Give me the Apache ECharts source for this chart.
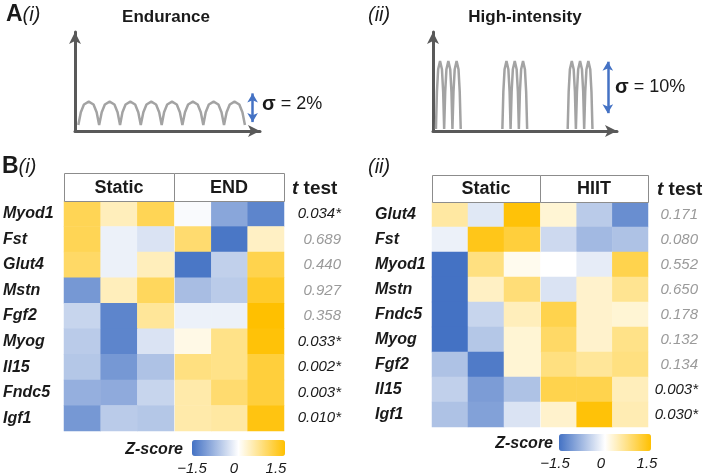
<!DOCTYPE html>
<html>
<head>
<meta charset="utf-8">
<script src="https://cdn.jsdelivr.net/npm/echarts@6/dist/echarts.min.js"></script>
<style>
  html, body { margin: 0; padding: 0; background: #fff; }
  #chart { width: 709px; height: 476px; }
</style>
</head>
<body>
<div id="chart"></div>
<script>
// ---- panel A: schematic load profiles (x and y on 0-100 axes) ----
var endStarts = [1.8, 13.1, 24.3, 35.6, 46.8, 58.1, 69.3, 80.6];
var endWidth = 11.25, endBase = 6, endPeak = 29.6;
var endSpread = [9, 38];
var hiitStarts = [1.6, 6.1, 10.6, 37.7, 42.2, 46.7, 73.2, 77.7, 82.2];
var hiitWidth = 4.46, hiitBase = 2, hiitPeak = 70.7;
var hiitSpread = [18, 70];
var humpShape = [[0, 0], [0.12, 0.55], [0.27, 0.88], [0.5, 1], [0.73, 0.88], [0.88, 0.55], [1, 0]];

// ---- panel B(i): endurance z-scores ----
var endGenes = ['Myod1', 'Fst', 'Glut4', 'Mstn', 'Fgf2', 'Myog', 'Il15', 'Fndc5', 'Igf1'];
var endStatic = [
  [1.0, 0.4, 1.0], [1.0, -0.15, -0.3], [0.9, -0.15, 0.4], [-1.1, 0.4, 0.95], [-0.45, -1.3, 0.6],
  [-0.55, -1.3, -0.3], [-0.6, -1.1, -0.65], [-0.85, -0.9, -0.45], [-1.1, -0.55, -0.6]
];
var endEND = [
  [-0.05, -0.95, -1.3], [0.85, -1.45, 0.35], [-1.45, -0.5, 1.05], [-0.7, -0.55, 1.25], [-0.15, -0.15, 1.5],
  [0.15, 0.7, 1.45], [0.75, 0.7, 1.15], [0.5, 0.85, 1.15], [0.5, 0.55, 1.4]
];
var endP = ['0.034*', '0.689', '0.440', '0.927', '0.358', '0.033*', '0.002*', '0.003*', '0.010*'];

// ---- panel B(ii): HIIT z-scores ----
var hiitGenes = ['Glut4', 'Fst', 'Myod1', 'Mstn', 'Fndc5', 'Myog', 'Fgf2', 'Il15', 'Igf1'];
var hiitStatic = [
  [0.55, -0.25, 1.45], [-0.15, 1.35, 1.15], [-1.5, 0.75, 0.1], [-1.5, 0.35, 0.8], [-1.5, -0.45, 0.4],
  [-1.5, -0.6, 0.25], [-0.65, -1.4, 0.25], [-0.5, -1.05, -0.65], [-0.65, -1.0, -0.3]
];
var hiitHIIT = [
  [0.25, -0.55, -1.2], [-0.4, -0.75, -0.65], [0.0, -0.2, 1.05], [-0.3, 0.3, 0.65], [1.05, 0.3, 0.25],
  [0.9, 0.3, 0.7], [0.75, 0.6, 0.75], [1.05, 1.05, 0.4], [0.3, 1.45, 0.45]
];
var hiitP = ['0.171', '0.080', '0.552', '0.650', '0.178', '0.132', '0.134', '0.003*', '0.030*'];

var reps = ['1', '2', '3'];

var FONT = 'Liberation Sans';
var AXIS_GREY = '#595959';
var WAVE_GREY = '#a3a3a3';
var BLUE = '#4472C4';
var zColors = ['#4472C4', '#ffffff', '#FFC000'];

function buildWave(starts, width, base, peak) {
  var pts = [];
  for (var i = 0; i < starts.length; i++) {
    // a gap before this hump when it does not touch the previous one
    if (i > 0 && starts[i] - (starts[i - 1] + width) > 1) pts.push([starts[i] - 0.5, null]);
    humpShape.forEach(function (p, k) {
      if (i > 0 && k === 0 && Math.abs(starts[i] - (starts[i - 1] + width)) <= 1) return;
      pts.push([starts[i] + p[0] * width, base + p[1] * (peak - base)]);
    });
  }
  return pts;
}

function cells(rows) {
  var out = [];
  rows.forEach(function (r, y) {
    r.forEach(function (v, x) { out.push([x, y, v]); });
  });
  return out;
}

function pLabel(pvals) {
  return function (v, i) {
    return pvals[i].indexOf('*') >= 0 ? '{sig|' + pvals[i] + '}' : '{ns|' + pvals[i] + '}';
  };
}
var pRich = {
  sig: { color: '#1a1a1a', fontStyle: 'italic', fontSize: 15, fontFamily: FONT },
  ns: { color: '#9a9a9a', fontStyle: 'italic', fontSize: 15, fontFamily: FONT }
};

function hiddenCat() {
  return { type: 'category', data: reps, show: false };
}
function geneAxis(idx, genes, margin) {
  return {
    type: 'category', gridIndex: idx, data: genes, inverse: true,
    axisLine: { show: false }, axisTick: { show: false },
    axisLabel: { align: 'left', margin: margin, color: '#1a1a1a', fontWeight: 'bold', fontStyle: 'italic', fontSize: 16, fontFamily: FONT }
  };
}
function pAxis(idx, genes, pvals, margin) {
  return {
    type: 'category', gridIndex: idx, data: genes, inverse: true, position: 'right',
    axisLine: { show: false }, axisTick: { show: false },
    axisLabel: { align: 'right', margin: margin, formatter: pLabel(pvals), rich: pRich }
  };
}
function arrowAxis(idx) {
  return {
    type: 'value', gridIndex: idx, min: 0, max: 100,
    axisLine: { show: true, symbol: ['none', 'arrow'], symbolSize: [9, 12], lineStyle: { color: AXIS_GREY, width: 3 } },
    axisTick: { show: false }, axisLabel: { show: false }, splitLine: { show: false }
  };
}
function tickAxis(idx) {
  return {
    type: 'value', gridIndex: idx, min: -1.5, max: 1.5, interval: 1.5,
    axisLine: { show: false }, axisTick: { show: false }, splitLine: { show: false },
    axisLabel: {
      margin: 5, color: '#1a1a1a', fontStyle: 'italic', fontSize: 15, fontFamily: FONT,
      formatter: function (v) { return v < 0 ? '\u2212' + Math.abs(v) : String(v); }
    }
  };
}
function hiddenVal(idx) {
  return { type: 'value', gridIndex: idx, show: false, min: 0, max: 1 };
}

function txt(x, y, text, rich, align) {
  return {
    type: 'text', x: x, y: y, z: 10,
    style: { text: text, rich: rich, align: align || 'left', verticalAlign: 'middle', fill: '#1a1a1a', font: 'bold 17px ' + FONT }
  };
}
function box(x, y, w, h) {
  return { type: 'rect', z: 5, shape: { x: x + 0.5, y: y + 0.5, width: w, height: h }, style: { fill: '#fff', stroke: '#8c8c8c', lineWidth: 1 } };
}
var labRich = {
  b: { fontWeight: 'bold', fontSize: 23, fontFamily: FONT, color: '#1a1a1a' },
  i: { fontStyle: 'italic', fontSize: 20, fontFamily: FONT, color: '#1a1a1a' }
};
var sigRich = {
  s: { fontWeight: 'bold', fontSize: 20, fontFamily: FONT, color: '#1a1a1a' },
  n: { fontSize: 18, fontFamily: FONT, color: '#1a1a1a' }
};
var headRich = { h: { fontWeight: 'bold', fontSize: 18, fontFamily: FONT, color: '#1a1a1a' } };
var tRich = {
  t: { fontWeight: 'bold', fontStyle: 'italic', fontSize: 19, fontFamily: FONT, color: '#1a1a1a' },
  h: { fontWeight: 'bold', fontSize: 19, fontFamily: FONT, color: '#1a1a1a' }
};
var zRich = { z: { fontWeight: 'bold', fontStyle: 'italic', fontSize: 16, fontFamily: FONT, color: '#1a1a1a' } };

var chart = echarts.init(document.getElementById('chart'), null, { renderer: 'canvas' });

var option = {
  backgroundColor: '#fff',
  animation: false,
  grid: [
    { left: 64, top: 201, width: 110, height: 230 },   // 0 B(i) static
    { left: 175, top: 201, width: 109, height: 230 },  // 1 B(i) END
    { left: 432, top: 202, width: 108, height: 225 },  // 2 B(ii) static
    { left: 541, top: 202, width: 107, height: 225 },  // 3 B(ii) HIIT
    { left: 75, top: 32, width: 185, height: 99 },     // 4 A(i) wave
    { left: 433, top: 32, width: 184, height: 99 },    // 5 A(ii) wave
    { left: 192, top: 440, width: 84, height: 16 },    // 6 colorbar ticks (i)
    { left: 555, top: 434, width: 92, height: 17 }     // 7 colorbar ticks (ii)
  ],
  xAxis: [
    Object.assign(hiddenCat(), { gridIndex: 0 }),
    Object.assign(hiddenCat(), { gridIndex: 1 }),
    Object.assign(hiddenCat(), { gridIndex: 2 }),
    Object.assign(hiddenCat(), { gridIndex: 3 }),
    arrowAxis(4),
    arrowAxis(5),
    tickAxis(6),
    tickAxis(7)
  ],
  yAxis: [
    geneAxis(0, endGenes, 61),
    pAxis(1, endGenes, endP, 57),
    geneAxis(2, hiitGenes, 57),
    pAxis(3, hiitGenes, hiitP, 50),
    arrowAxis(4),
    arrowAxis(5),
    hiddenVal(6),
    hiddenVal(7)
  ],
  visualMap: [
    {
      type: 'continuous', min: -1.5, max: 1.5, seriesIndex: [0, 1], orient: 'horizontal',
      left: 192, top: 440, itemWidth: 16, itemHeight: 93, padding: 0, calculable: false,
      showLabel: false, hoverLink: false, inRange: { color: zColors }
    },
    {
      type: 'continuous', min: -1.5, max: 1.5, seriesIndex: [2, 3], orient: 'horizontal',
      left: 559, top: 434, itemWidth: 17, itemHeight: 92, padding: 0, calculable: false,
      showLabel: false, hoverLink: false, inRange: { color: zColors }
    }
  ],
  series: [
    { type: 'heatmap', xAxisIndex: 0, yAxisIndex: 0, data: cells(endStatic), itemStyle: { borderWidth: 0 } },
    { type: 'heatmap', xAxisIndex: 1, yAxisIndex: 1, data: cells(endEND), itemStyle: { borderWidth: 0 } },
    { type: 'heatmap', xAxisIndex: 2, yAxisIndex: 2, data: cells(hiitStatic), itemStyle: { borderWidth: 0 } },
    { type: 'heatmap', xAxisIndex: 3, yAxisIndex: 3, data: cells(hiitHIIT), itemStyle: { borderWidth: 0 } },
    {
      type: 'line', xAxisIndex: 4, yAxisIndex: 4, data: buildWave(endStarts, endWidth, endBase, endPeak),
      showSymbol: false, connectNulls: false, lineStyle: { color: WAVE_GREY, width: 2.5 }, z: 3,
      markLine: {
        silent: true, symbol: ['arrow', 'arrow'], symbolSize: [8, 9],
        lineStyle: { color: BLUE, width: 2.5, type: 'solid' }, label: { show: false },
        data: [[{ coord: [96, endSpread[0]] }, { coord: [96, endSpread[1]] }]]
      }
    },
    {
      type: 'line', xAxisIndex: 5, yAxisIndex: 5, data: buildWave(hiitStarts, hiitWidth, hiitBase, hiitPeak),
      showSymbol: false, connectNulls: false, lineStyle: { color: WAVE_GREY, width: 2.5 }, z: 3,
      markLine: {
        silent: true, symbol: ['arrow', 'arrow'], symbolSize: [8, 9],
        lineStyle: { color: BLUE, width: 2.5, type: 'solid' }, label: { show: false },
        data: [[{ coord: [95, hiitSpread[0]] }, { coord: [95, hiitSpread[1]] }]]
      }
    }
  ],
  graphic: [
    txt(6, 15, '{b|A}{i|(i)}', labRich),
    txt(166, 17, 'Endurance', null, 'center'),
    txt(368, 15, '{i|(ii)}', labRich),
    txt(525, 17, 'High-intensity', null, 'center'),
    txt(262, 104, '{s|\u03c3}{n| = 2%}', sigRich),
    txt(615, 87, '{s|\u03c3}{n| = 10%}', sigRich),
    txt(2, 167, '{b|B}{i|(i)}', labRich),
    txt(368, 167, '{i|(ii)}', labRich),
    box(64, 173, 110, 28), box(174, 173, 110, 28),
    box(432, 175, 108, 27), box(540, 175, 108, 27),
    txt(119, 188, '{h|Static}', headRich, 'center'),
    txt(229, 188, '{h|END}', headRich, 'center'),
    txt(486, 189, '{h|Static}', headRich, 'center'),
    txt(594, 189, '{h|HIIT}', headRich, 'center'),
    txt(292, 189, '{t|t}{h| test}', tRich),
    txt(657, 190, '{t|t}{h| test}', tRich),
    txt(183, 450, '{z|Z-score}', zRich, 'right'),
    txt(553, 444, '{z|Z-score}', zRich, 'right')
  ]
};

chart.setOption(option);
</script>
</body>
</html>
